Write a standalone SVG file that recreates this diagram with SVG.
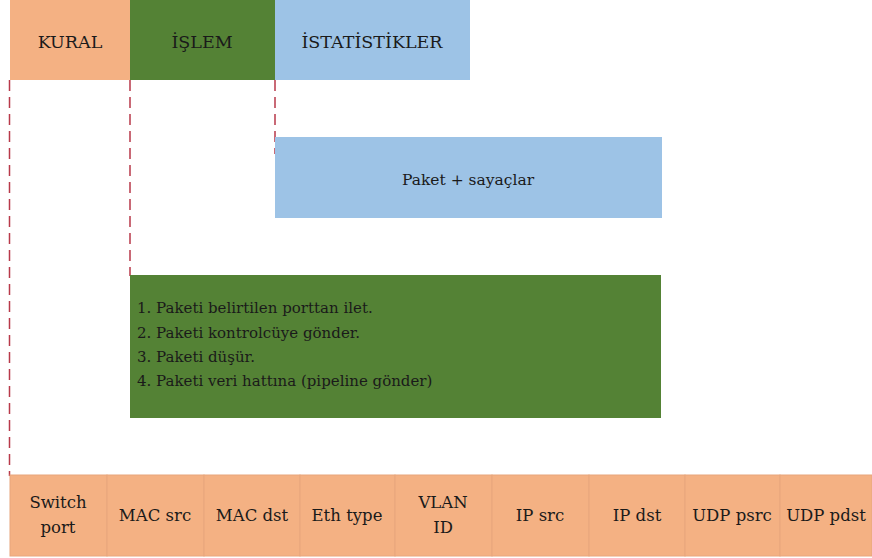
<svg xmlns="http://www.w3.org/2000/svg" width="872" height="558" viewBox="0 0 872 558">
<style>
.or{fill:#F4B183}
.gr{fill:#548235}
.bl{fill:#9DC3E6}
.cell{fill:#F4B183;stroke:#E8A67C;stroke-width:1}
text{font-family:"DejaVu Serif","Liberation Serif",serif;fill:#1a1a1a}
.h{font-size:17.5px;text-anchor:middle}
.c{font-size:16.5px;text-anchor:middle}
.p{font-size:15.5px;text-anchor:middle}
.l{font-size:15px}
.dash{stroke:#B8394A;stroke-width:1.5;stroke-dasharray:11,6;fill:none}
</style>
<rect width="872" height="558" fill="#ffffff"/>
<g id="connectors">
<line class="dash" x1="9.5" y1="80" x2="9.5" y2="476"/>
<line class="dash" x1="130" y1="80" x2="130" y2="276"/>
<line class="dash" x1="275" y1="80" x2="275" y2="154"/>
</g>
<g id="kural"><rect class="or" x="10" y="0" width="120" height="80"/><text class="h" x="70" y="48">KURAL</text></g>
<g id="islem"><rect class="gr" x="130" y="0" width="145" height="80"/><text class="h" x="202" y="48">İŞLEM</text></g>
<g id="istatistikler"><rect class="bl" x="275" y="0" width="195" height="80"/><text class="h" x="372" y="48">İSTATİSTİKLER</text></g>
<g id="paket"><rect class="bl" x="275" y="137" width="387" height="81"/><text class="p" x="468" y="185">Paket + sayaçlar</text></g>
<g id="eylemler"><rect class="gr" x="130" y="275" width="531" height="143"/>
<text class="l" x="137" y="313">1. Paketi belirtilen porttan ilet.</text>
<text class="l" x="137" y="338">2. Paketi kontrolcüye gönder.</text>
<text class="l" x="137" y="362">3. Paketi düşür.</text>
<text class="l" x="137" y="386">4. Paketi veri hattına (pipeline gönder)</text>
</g>
<g id="alanlar">
<g id="f1"><rect class="cell" x="10" y="475" width="97" height="81"/><text class="c" x="58" y="508">Switch</text><text class="c" x="58" y="533">port</text></g>
<g id="f2"><rect class="cell" x="107" y="475" width="97" height="81"/><text class="c" x="155" y="521">MAC src</text></g>
<g id="f3"><rect class="cell" x="204" y="475" width="96" height="81"/><text class="c" x="252" y="521">MAC dst</text></g>
<g id="f4"><rect class="cell" x="300" y="475" width="95" height="81"/><text class="c" x="347" y="521">Eth type</text></g>
<g id="f5"><rect class="cell" x="395" y="475" width="97" height="81"/><text class="c" x="443" y="508">VLAN</text><text class="c" x="443" y="533">ID</text></g>
<g id="f6"><rect class="cell" x="492" y="475" width="97" height="81"/><text class="c" x="540" y="521">IP src</text></g>
<g id="f7"><rect class="cell" x="589" y="475" width="96" height="81"/><text class="c" x="637" y="521">IP dst</text></g>
<g id="f8"><rect class="cell" x="685" y="475" width="95" height="81"/><text class="c" x="732" y="521">UDP psrc</text></g>
<g id="f9"><rect class="cell" x="780" y="475" width="92" height="81"/><text class="c" x="826" y="521">UDP pdst</text></g>
</g>
</svg>
